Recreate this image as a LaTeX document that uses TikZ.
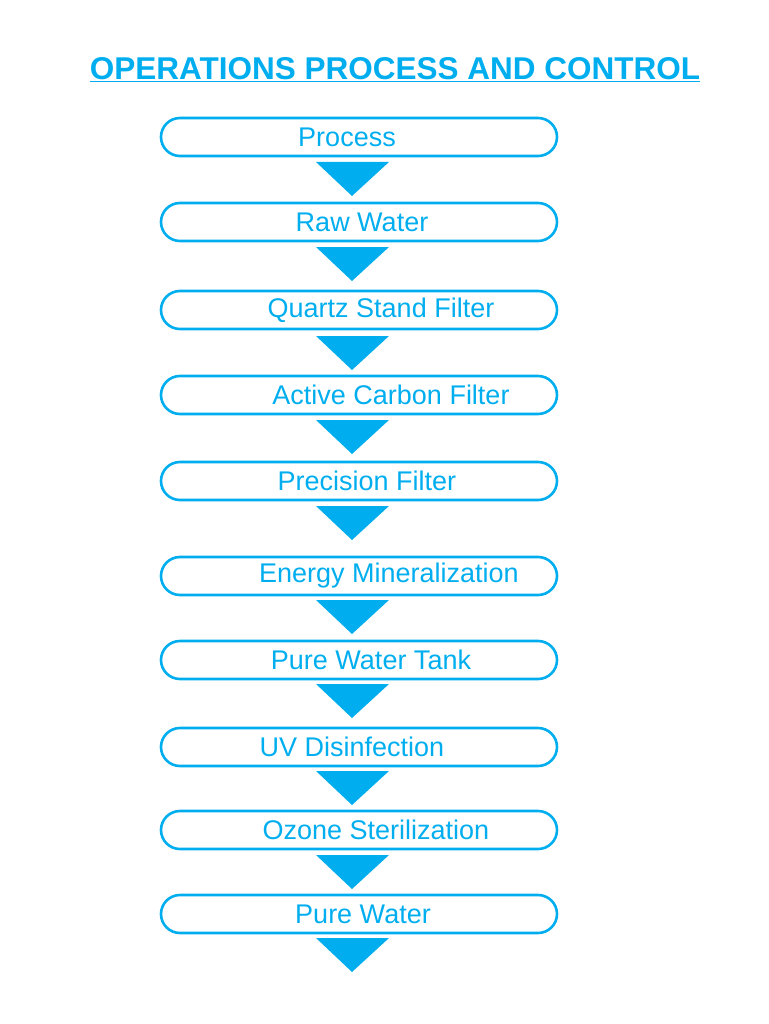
\documentclass[tikz,border=0pt]{standalone}
\usepackage{fontspec}
\setmainfont{Liberation Sans}
\definecolor{cy}{HTML}{00AEEF}
\begin{document}
\begin{tikzpicture}[x=1pt,y=-1pt,
 box/.style={draw=cy,line width=2.6pt,rounded corners=19pt,minimum width=396pt,minimum height=38pt,inner sep=0pt},
 lbl/.style={text=cy,font=\fontsize{27}{29}\selectfont},
 tri/.style={fill=cy,draw=none}]
\useasboundingbox (0,0) rectangle (768,1024);
\node[text=cy,font=\bfseries\fontsize{31.5}{34}\selectfont] (title) at (395,70) {\underline{OPERATIONS PROCESS AND CONTROL}};
\foreach \n/\y/\tx/\t/\ty in {
 b1/137/347/Process/162, b2/222/362/Raw Water/247, b3/310/381/Quartz Stand Filter/336,
 b4/395/391/Active Carbon Filter/420, b5/481/367/Precision Filter/506,
 b6/576/389/Energy Mineralization/600, b7/660/371/Pure Water Tank/684,
 b8/747/352/UV Disinfection/771, b9/830/376/Ozone Sterilization/855, b10/914/363/Pure Water/938}{
 \node[box] (\n) at (359,\y) {};
 \node[lbl] (\n t) at (\tx,\y) {\t};
 \coordinate (\n a) at (352,\ty);
 \fill[cy] ([xshift=-36]\n a) -- ([xshift=37]\n a) -- ([yshift=-34]\n a) -- cycle;
}
\end{tikzpicture}
\end{document}
